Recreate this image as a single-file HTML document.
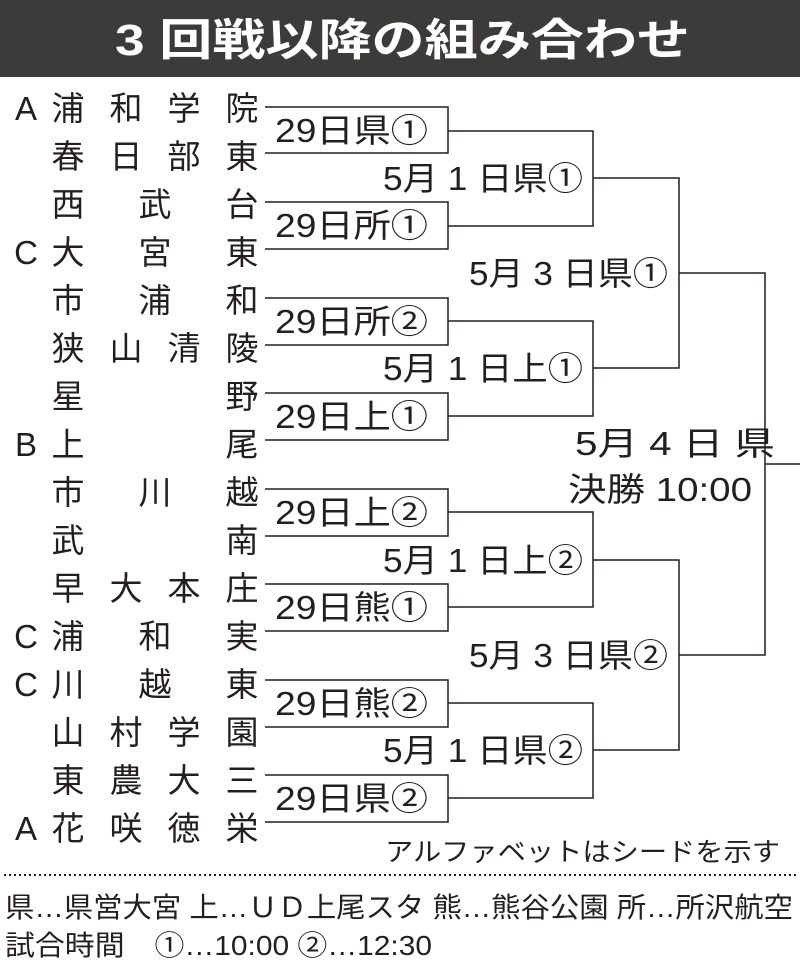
<!DOCTYPE html>
<html><head><meta charset="utf-8"><style>
html,body{margin:0;padding:0;background:#fff}
svg{display:block}
text{font-family:"Liberation Sans","Noto Sans CJK JP",sans-serif;fill:#231f20}
</style></head><body>
<svg width="800" height="970" viewBox="0 0 800 970" xmlns="http://www.w3.org/2000/svg">
<rect x="0" y="0" width="800" height="77" fill="#3d3a3a"/>
<text x="115" y="55" font-size="44" font-weight="bold" textLength="575" lengthAdjust="spacingAndGlyphs" style="fill:#fff">3 回戦以降の組み合わせ</text>
<g font-size="33" text-anchor="middle">
<text x="26" y="120">A</text><text x="68" y="120">浦</text><text x="126" y="120">和</text><text x="184" y="120">学</text><text x="242" y="120">院</text>
<text x="68" y="168">春</text><text x="126" y="168">日</text><text x="184" y="168">部</text><text x="242" y="168">東</text>
<text x="68" y="216">西</text><text x="155" y="216">武</text><text x="242" y="216">台</text>
<text x="26" y="264">C</text><text x="68" y="264">大</text><text x="155" y="264">宮</text><text x="242" y="264">東</text>
<text x="68" y="312">市</text><text x="155" y="312">浦</text><text x="242" y="312">和</text>
<text x="68" y="360">狭</text><text x="126" y="360">山</text><text x="184" y="360">清</text><text x="242" y="360">陵</text>
<text x="68" y="408">星</text><text x="242" y="408">野</text>
<text x="26" y="456">B</text><text x="68" y="456">上</text><text x="242" y="456">尾</text>
<text x="68" y="504">市</text><text x="155" y="504">川</text><text x="242" y="504">越</text>
<text x="68" y="552">武</text><text x="242" y="552">南</text>
<text x="68" y="600">早</text><text x="126" y="600">大</text><text x="184" y="600">本</text><text x="242" y="600">庄</text>
<text x="26" y="648">C</text><text x="68" y="648">浦</text><text x="155" y="648">和</text><text x="242" y="648">実</text>
<text x="26" y="696">C</text><text x="68" y="696">川</text><text x="155" y="696">越</text><text x="242" y="696">東</text>
<text x="68" y="744">山</text><text x="126" y="744">村</text><text x="184" y="744">学</text><text x="242" y="744">園</text>
<text x="68" y="792">東</text><text x="126" y="792">農</text><text x="184" y="792">大</text><text x="242" y="792">三</text>
<text x="26" y="840">A</text><text x="68" y="840">花</text><text x="126" y="840">咲</text><text x="184" y="840">徳</text><text x="242" y="840">栄</text>
</g>
<g fill="none" stroke="#231f20" stroke-width="1.5">
<path d="M265 107H448V153H265"/><path d="M265 202H448V249H265"/>
<path d="M265 298H448V345H265"/><path d="M265 393H448V440H265"/>
<path d="M265 489H448V536H265"/><path d="M265 584H448V631H265"/>
<path d="M265 680H448V727H265"/><path d="M265 775H448V822H265"/>
<path d="M448 131H593V226H448"/><path d="M448 321H593V416H448"/>
<path d="M448 512H593V607H448"/><path d="M448 703H593V798H448"/>
<path d="M593 178H679V368H593"/><path d="M593 560H679V750H593"/>
<path d="M679 273H765V655H679"/><path d="M765 464H800"/>
</g>
<g font-size="33">
<text x="275" y="142" textLength="153" lengthAdjust="spacingAndGlyphs">29日県①</text>
<text x="275" y="237" textLength="153" lengthAdjust="spacingAndGlyphs">29日所①</text>
<text x="275" y="333" textLength="153" lengthAdjust="spacingAndGlyphs">29日所②</text>
<text x="275" y="428" textLength="153" lengthAdjust="spacingAndGlyphs">29日上①</text>
<text x="275" y="524" textLength="153" lengthAdjust="spacingAndGlyphs">29日上②</text>
<text x="275" y="619" textLength="153" lengthAdjust="spacingAndGlyphs">29日熊①</text>
<text x="275" y="715" textLength="153" lengthAdjust="spacingAndGlyphs">29日熊②</text>
<text x="275" y="810" textLength="153" lengthAdjust="spacingAndGlyphs">29日県②</text>
</g>
<g font-size="33">
<text x="383" y="190" textLength="200" lengthAdjust="spacingAndGlyphs">5月 1 日県①</text>
<text x="383" y="380" textLength="200" lengthAdjust="spacingAndGlyphs">5月 1 日上①</text>
<text x="383" y="572" textLength="200" lengthAdjust="spacingAndGlyphs">5月 1 日上②</text>
<text x="383" y="762" textLength="200" lengthAdjust="spacingAndGlyphs">5月 1 日県②</text>
<text x="469" y="285" textLength="199" lengthAdjust="spacingAndGlyphs">5月 3 日県①</text>
<text x="469" y="667" textLength="199" lengthAdjust="spacingAndGlyphs">5月 3 日県②</text>
</g>
<text x="575" y="455" font-size="33" textLength="200" lengthAdjust="spacingAndGlyphs">5月 4 日 県</text>
<text x="568" y="501" font-size="33" textLength="184" lengthAdjust="spacingAndGlyphs">決勝 10:00</text>
<text x="385" y="861" font-size="26" textLength="395" lengthAdjust="spacingAndGlyphs">アルファベットはシードを示す</text>
<line x1="4" y1="875" x2="798" y2="875" stroke="#231f20" stroke-width="2" stroke-dasharray="2 3"/>
<text x="5" y="917" font-size="28" textLength="788" lengthAdjust="spacingAndGlyphs">県…県営大宮 上…ＵＤ上尾スタ 熊…熊谷公園 所…所沢航空</text>
<text x="5" y="955" font-size="28" textLength="427" lengthAdjust="spacingAndGlyphs">試合時間　①…10:00 ②…12:30</text>
</svg>
</body></html>
